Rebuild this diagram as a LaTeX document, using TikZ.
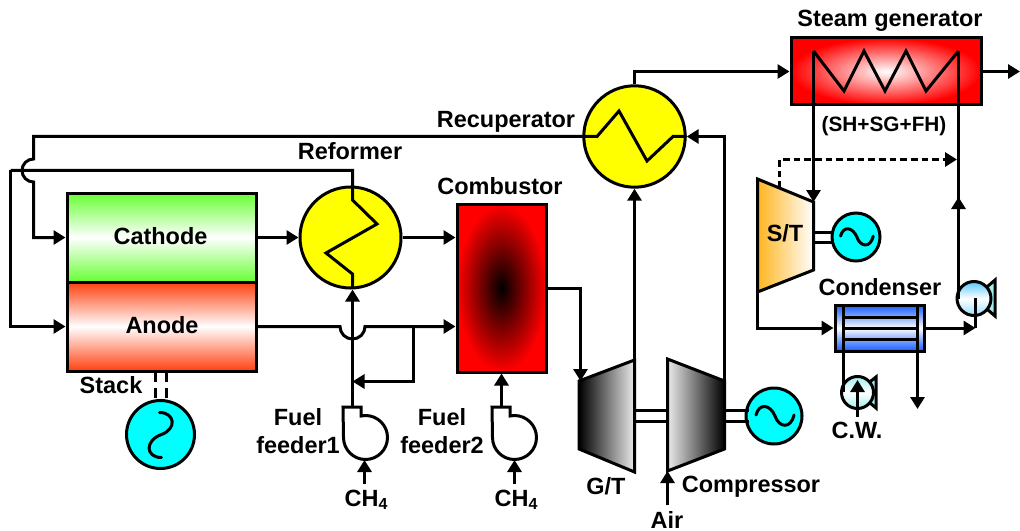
\documentclass[tikz,border=0pt]{standalone}
\usepackage{fontspec}
\setmainfont{Liberation Sans}
\usetikzlibrary{arrows.meta,calc}
\definecolor{genc}{RGB}{0,255,255}
\definecolor{yel}{RGB}{255,255,0}
\definecolor{greenc}{HTML}{66FF33}
\definecolor{redc}{HTML}{FF4010}
\definecolor{orangec}{HTML}{FFB520}
\definecolor{bluec}{HTML}{1A5CFF}
\definecolor{bluem}{HTML}{6C98FF}
\definecolor{pumpa}{HTML}{55C8FF}
\definecolor{pumpb}{HTML}{A0F0F0}
\pgfdeclareverticalshading{condsh}{100bp}{color(0bp)=(bluec);color(25bp)=(bluec);color(35bp)=(bluem);color(50bp)=(white);color(65bp)=(bluem);color(75bp)=(bluec);color(100bp)=(bluec)}
\tikzset{
  eq/.style={draw=black,line width=2.25pt,inner sep=0pt},
  box/.style args={#1x#2}{eq,rectangle,minimum width=#1*0.75pt,minimum height=#2*0.75pt},
  disc/.style={eq,circle,minimum size=#1*1.5pt},
  pipe/.style={line width=2.25pt,line join=miter},
  flow/.style={pipe,-{Triangle[length=9pt,width=10.5pt]}},
  outline/.style={draw=black,line width=2.25pt,line join=miter},
  wave/.style={line width=2.25pt,line cap=round},
  lab/.style={anchor=base,inner sep=0pt,font=\fontsize{17.6}{20}\selectfont\bfseries,text=black},
  labs/.style={lab,font=\fontsize{15.6}{18}\selectfont\bfseries},
}
\newcommand{\methane}{CH\raisebox{-0.3ex}{\fontsize{12}{12}\selectfont 4}}
\begin{document}
\begin{tikzpicture}[x=0.75pt,y=-0.75pt]
\useasboundingbox (0,0) rectangle (1020,531);
% equipment
\node[box=189x89,top color=greenc,bottom color=greenc,middle color=white] (cathode) at (161.5,237.5) {};
\node[box=189x89,top color=redc,bottom color=redc,middle color=white] (anode) at (161.5,326.5) {};
\node[disc=50.5,fill=yel] (reformer) at (350.5,237.5) {};
\node[disc=50.7,fill=yel] (recup) at (634.5,136.5) {};
\node[box=89x168,inner color=black,outer color=red] (comb) at (501.5,288) {};
\node[box=190x67,inner color=white,outer color=red] (sg) at (886,71.5) {};
\node[disc=34,fill=genc] (gen1) at (160.5,434.5) {};
\node[disc=28,fill=genc] (gen2) at (774,416) {};
\node[disc=24,fill=genc] (gen3) at (856,237) {};
% turbines
\coordinate (gta) at (579,381); \coordinate (gtb) at (634.5,360); \coordinate (gtc) at (634.5,472); \coordinate (gtd) at (579,449);
\coordinate (ca) at (667.5,359); \coordinate (cb) at (724.5,381); \coordinate (cc) at (724.5,449); \coordinate (cd) at (667.5,471);
\coordinate (sta) at (757.5,179); \coordinate (stb) at (813.5,202); \coordinate (stc) at (813.5,270); \coordinate (std) at (757.5,292);
\path[outline,left color=black,right color=white!92!black] (gta) -- (gtb) -- (gtc) -- (gtd) -- cycle;
\path[outline,left color=white!92!black,right color=black] (ca) -- (cb) -- (cc) -- (cd) -- cycle;
\path[outline,left color=orangec,right color=white] (sta) -- (stb) -- (stc) -- (std) -- cycle;
% feeders
\coordinate (f1top) at (352.5,407); \coordinate (f2top) at (501.5,407);
\path[outline,fill=white] (343,407) -- (361,407) -- (361,416) -- (365.5,415.5) arc[start angle=-90,end angle=180,radius=22] -- cycle;
\path[outline,fill=white] (492,407) -- (510,407) -- (510,416) -- (514.5,415.5) arc[start angle=-90,end angle=180,radius=22] -- cycle;
% condenser
\node[box=89x46,shading=condsh] (cond) at (879.5,328) {};
\draw[pipe] (843.5,317.5) -- (917.5,317.5) (843.5,328.5) -- (917.5,328.5) (843.5,339.5) -- (917.5,339.5);
% pumps
\path[outline,fill=pumpb] (974,298) -- (995,280) -- (995,316) -- cycle;
\node[eq,circle,minimum size=25.5pt,top color=pumpa,bottom color=pumpa!60!white,middle color=white] (pump1) at (974,298.5) {};
\path[outline,fill=pumpb] (857,392) -- (876,377) -- (876,408) -- cycle;
\node[eq,circle,minimum size=24pt,top color=pumpb,bottom color=pumpb,middle color=white] (pump2) at (857.5,392.5) {};
% generator waves
\draw[wave,shift={(gen2.center)}] (-18,-1) .. controls (-15,-13) and (-4,-12) .. (1,0) .. controls (5,12) and (17,13) .. (20,-1);
\draw[wave,shift={(gen3.center)},scale=0.86] (-18,-1) .. controls (-15,-13) and (-4,-12) .. (1,0) .. controls (5,12) and (17,13) .. (20,-1);
\draw[wave,shift={(gen1.center)}] (-1,-22) .. controls (14,-22) and (17,-6) .. (1,0) .. controls (-16,6) and (-15,23) .. (1,23);
% shafts
\coordinate (s1a) at (634,410.5); \coordinate (s1b) at (667,410.5); \coordinate (s2a) at (634,421.5); \coordinate (s2b) at (667,421.5);
\coordinate (s3a) at (724,410.5); \coordinate (s3b) at (749,410.5); \coordinate (s4a) at (724,421.5); \coordinate (s4b) at (749,421.5);
\coordinate (s5a) at (813,232.5); \coordinate (s5b) at (834,232.5); \coordinate (s6a) at (813,242.5); \coordinate (s6b) at (834,242.5);
\draw[pipe] (s1a) -- (s1b) (s2a) -- (s2b) (s3a) -- (s3b) (s4a) -- (s4b) (s5a) -- (s5b) (s6a) -- (s6b);
\coordinate (d1a) at (155.5,372); \coordinate (d1b) at (155.5,400); \coordinate (d2a) at (166.5,372); \coordinate (d2b) at (166.5,400);
\draw[line width=2.25pt,dash pattern=on 7.5pt off 4.5pt] (d1a) -- (d1b) (d2a) -- (d2b);
% reformer coil and recycle
\coordinate (rt) at (352.5,170.5);
\coordinate (xl) at (10.5,170.5);
\draw[pipe] (xl) -- (rt) -- (352.5,200) -- (377,224) -- (326,253) -- (352.5,274) -- (352.5,287);
\draw[flow] (xl) -- (10.5,326.5) -- (anode.west);
% air line to cathode with jump
\draw[flow] (recup.west) -- (33.5,136.5) -- (33.5,159) arc[start angle=270,end angle=90,radius=11.5] -- (33.5,237.5) -- (cathode.west);
\draw[flow] (cathode.east) -- (reformer.west);
\draw[flow] (reformer.east) -- (comb.west|-reformer.east);
% anode off-gas
\coordinate (j1) at (413.5,326.5); \coordinate (j2) at (413.5,381.5); \coordinate (j3) at (352.5,381.5);
\draw[flow] (anode.east) -- (340,326.5) arc[start angle=180,end angle=0,radius=12.5] -- (comb.west|-anode.east);
\draw[flow] (j1) -- (j2) -- (j3);
\draw[flow] (f1top) -- (reformer.south-|f1top);
\draw[flow] (f2top) -- (comb.south-|f2top);
\coordinate (m1) at (364.5,484); \coordinate (m2) at (514.5,484);
\draw[flow] (m1) -- (364.5,460);
\draw[flow] (m2) -- (514.5,460);
% gas turbine loop
\coordinate (gi) at (580.5,288.5);
\draw[flow] (comb.east|-gi) -- (gi) -- (580.5,381);
\draw[flow] (gtb) -- (recup.south);
\coordinate (ci) at (724.5,136.5);
\draw[flow] (cb) -- (ci) -- (recup.east);
\draw[pipe] (recup.west) -- (597,136.5) -- (619,111) -- (647,161) -- (673,136.5) -- (recup.east);
\coordinate (ru) at (634.5,71.5);
\draw[flow] (recup.north) -- (ru) -- (sg.west);
\coordinate (ex) at (1020,71.5);
\draw[flow] (sg.east) -- (ex);
\coordinate (air) at (667.5,505);
\draw[flow] (air) -- (cd);
% steam cycle
\coordinate (sa) at (813.5,51); \coordinate (sb) at (958.5,51);
\draw[pipe] (sa) -- (844,91) -- (864,51) -- (885,91) -- (906,51) -- (926,91) -- (sb);
\draw[flow] (sa) -- (stb);
\coordinate (up) at (958.5,197);
\draw[pipe] (sb) -- (958.5,298.5);
\draw[flow] (958.5,250) -- (up);
\coordinate (da) at (779.5,188); \coordinate (db) at (779.5,159.5); \coordinate (dc) at (957,159.5);
\draw[line width=2.25pt,dash pattern=on 5pt off 3pt] (da) -- (db) -- (946,159.5);
\draw[flow] (944,159.5) -- (dc);
\coordinate (sc) at (757.5,328);
\draw[flow] (std) -- (sc) -- (cond.west);
\coordinate (p1) at (975.5,328);
\draw[flow] (cond.east|-p1) -- (p1);
\draw[pipe] (p1) -- (975.5,298);
\draw[pipe] (843.5,305) -- (843.5,392);
\coordinate (ov) at (917.5,409);
\draw[flow] (917.5,305) -- (ov);
\coordinate (cw) at (857.5,417);
\draw[flow] (cw) -- (857.5,380);
% labels
\node[lab] (lsg) at (890,27) {Steam generator};
\node[labs] (lsh) at (884,132) {(SH+SG+FH)};
\node[lab] (lrec) at (506,128) {Recuperator};
\node[lab] (lref) at (350,160) {Reformer};
\node[lab] (lcom) at (500,195) {Combustor};
\node[lab] (lcat) at (160.5,244) {Cathode};
\node[lab] (lano) at (162,333) {Anode};
\node[lab] (lsta) at (111,393) {Stack};
\node[lab] (lgt) at (606,494) {G/T};
\node[lab] (lcmp) at (751,492) {Compressor};
\node[lab] (lair) at (667,528) {Air};
\node[lab] (lst) at (785,241) {S/T};
\node[lab] (lcon) at (880,295) {Condenser};
\node[lab] (lcw) at (857,438) {C.W.};
\node[lab] (lf1) at (298,425) {Fuel};
\node[lab] (lf1b) at (298,453) {feeder1};
\node[lab] (lf2) at (442,425) {Fuel};
\node[lab] (lf2b) at (442,453) {feeder2};
\node[lab] (lm1) at (366,506) {\methane};
\node[lab] (lm2) at (516,506) {\methane};
\end{tikzpicture}
\end{document}
